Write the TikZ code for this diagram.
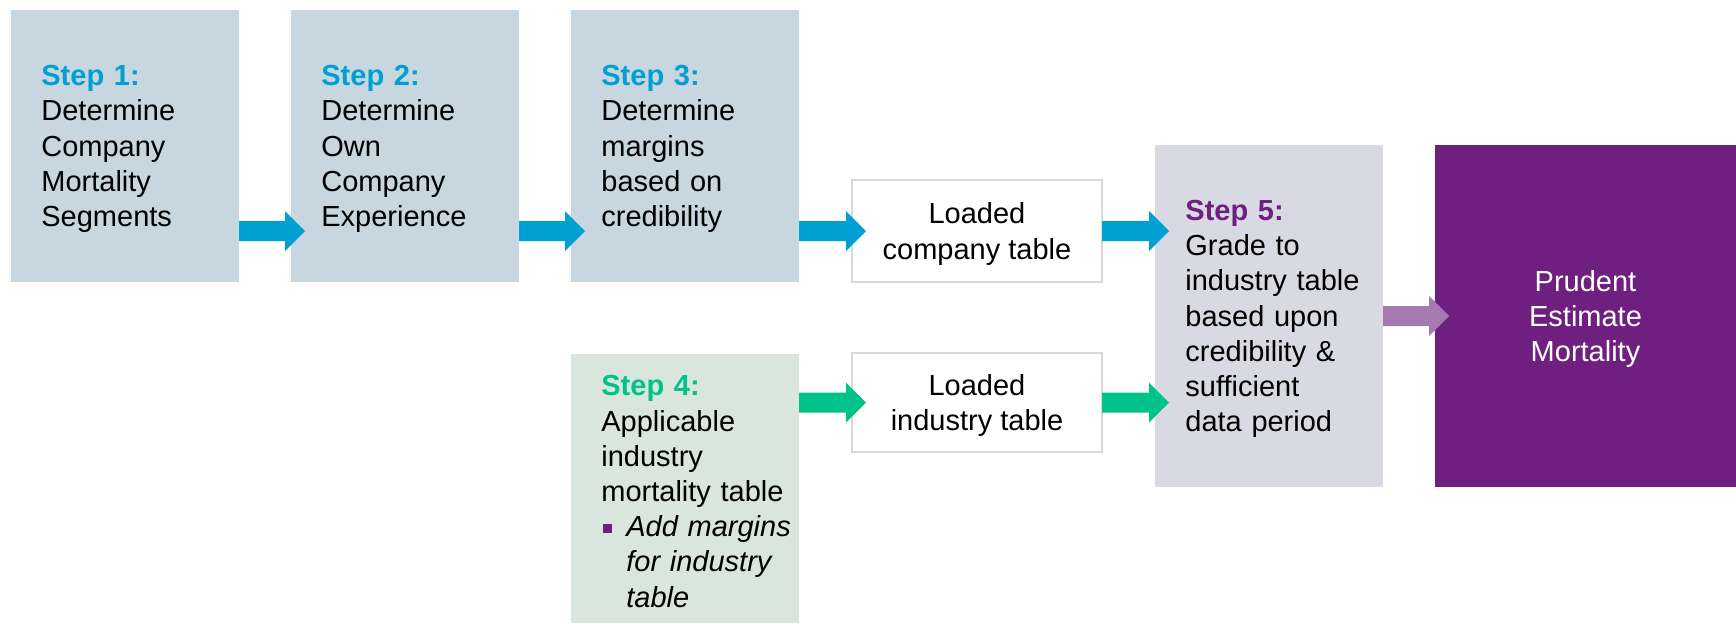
\documentclass[tikz,border=0pt]{standalone}
\usepackage{fontspec}
\setmainfont{Liberation Sans}
\usetikzlibrary{calc,fit}
\definecolor{stepblue}{RGB}{0,160,210}
\definecolor{stepgreen}{RGB}{0,195,137}
\definecolor{steppurple}{RGB}{111,31,127}
\definecolor{lightpurple}{RGB}{166,122,176}
\definecolor{bluefill}{RGB}{200,214,224}
\definecolor{greenfill}{RGB}{216,230,222}
\definecolor{greyfill}{RGB}{217,217,227}
\definecolor{edgegrey}{RGB}{217,217,217}
\def\fatarrow[#1](#2)(#3){\fill[#1] ($(#2)+(0,-10)$) -- ($(#3)+(-20,-10)$) -- ($(#3)+(-20,-20)$) -- (#3) -- ($(#3)+(-20,20)$) -- ($(#3)+(-20,10)$) -- ($(#2)+(0,10)$) -- cycle;}
\tikzset{
	stepbox/.style={inner sep=0pt, outer sep=0pt},
	steptxt/.style={anchor=west, text width=105pt, align=left, inner sep=0pt},
	midtxt/.style={anchor=center, align=center, inner sep=0pt},
	loadbox/.style={inner sep=0pt, outer sep=0pt, draw=edgegrey, line width=1pt, fill=white}
}

\begin{document}
\begin{tikzpicture}[x=0.5pt, y=-0.5pt, font=\fontsize{14.5pt}{17.6pt}\selectfont]
				\useasboundingbox (0,0) rectangle (1736,623);
				
				\node[stepbox, fill=bluefill, fit={(11,10) (239,282)}] (s1) {};
				\node[stepbox, fill=bluefill, fit={(291,10) (519,282)}] (s2) {};
				\node[stepbox, fill=bluefill, fit={(571,10) (799,282)}] (s3) {};
				\node[stepbox, fill=greenfill, fit={(571,354) (799,623)}] (s4) {};
				\node[stepbox, fill=greyfill, fit={(1155,145) (1383,487)}] (s5) {};
				\node[stepbox, fill=steppurple, fit={(1435,145) (1736,487)}] (pr) {};
				\node[loadbox, fit={(852,180) (1102,282)}] (cp) {};
				\node[loadbox, fit={(852,353) (1102,452)}] (ind) {};
				
				\node[midtxt] (cptxt) at ($(cp.center)+(0,3)$) {Loaded\\company table};
				\node[midtxt] (indtxt) at ($(ind.center)+(0,3)$) {Loaded\\industry table};
				\node[midtxt, text=white] (prtxt) at ($(pr.center)+(0,3)$) {Prudent\\Estimate\\Mortality};
				
				\node[steptxt] (t1) at ($(s1.west)+(30,3)$) {{\bfseries\color{stepblue}Step 1:}\\Determine\\Company\\Mortality\\Segments};
				\node[steptxt] (t2) at ($(s2.west)+(30,3)$) {{\bfseries\color{stepblue}Step 2:}\\Determine\\Own\\Company\\Experience};
				\node[steptxt] (t3) at ($(s3.west)+(30,3)$) {{\bfseries\color{stepblue}Step 3:}\\Determine\\margins\\based on\\credibility};
				\node[steptxt] (t4) at ($(s4.west)+(30,3)$) {{\bfseries\color{stepgreen}Step 4:}\\Applicable\\industry\\mortality table\\
					\makebox[12.5pt][l]{\hspace{1pt}\textcolor{steppurple}{\rule[2pt]{4.5pt}{4.5pt}}}\parbox[t]{92pt}{\raggedright\itshape Add margins\\for industry\\table}};
				\node[steptxt] (t5) at ($(s5.west)+(30,3)$) {{\bfseries\color{steppurple}Step 5:}\\Grade to\\industry table\\based upon\\credibility \&\\sufficient\\data period};
				
				\coordinate (a1) at ($(s1.south east)+(0,-51)$);
				\coordinate (b1) at ($(s2.west |- a1)+(14,0)$);
				\coordinate (a2) at (s2.east |- a1);
				\coordinate (b2) at ($(s3.west |- a1)+(14,0)$);
				\coordinate (a3) at (s3.east |- a1);
				\coordinate (b3) at ($(cp.west |- a1)+(14,0)$);
				\coordinate (a4) at (cp.east |- a1);
				\coordinate (b4) at ($(s5.west |- a1)+(14,0)$);
				\fatarrow[stepblue](a1)(b1)
				\fatarrow[stepblue](a2)(b2)
				\fatarrow[stepblue](a3)(b3)
				\fatarrow[stepblue](a4)(b4)
				
				\coordinate (g1) at (s4.east |- ind.west);
				\coordinate (h1) at ($(ind.west)+(14,0)$);
				\coordinate (g2) at (ind.east);
				\coordinate (h2) at ($(s5.west |- ind.east)+(14,0)$);
				\fatarrow[stepgreen](g1)(h1)
				\fatarrow[stepgreen](g2)(h2)
				
				\coordinate (p1) at (s5.east);
				\coordinate (p2) at ($(pr.west)+(14,0)$);
				\fatarrow[lightpurple](p1)(p2)
			\end{tikzpicture}
\end{document}
